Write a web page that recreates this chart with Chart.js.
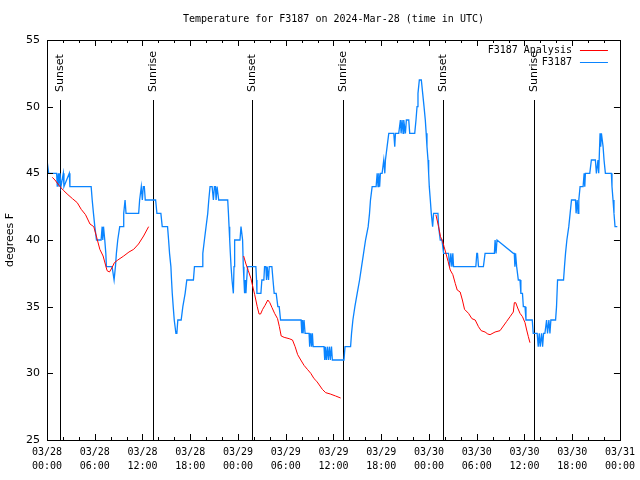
<!DOCTYPE html>
<html>
<head>
<meta charset="utf-8">
<script src="https://cdn.jsdelivr.net/npm/chart.js@4.4.1/dist/chart.umd.min.js"></script>
<style>
  html, body { margin: 0; padding: 0; background: #fff; }
  #wrap { width: 640px; height: 480px; }
</style>
</head>
<body>
<div id="wrap"><canvas id="chart" width="640" height="480"></canvas></div>
<script>
// hours since 2024-03-28 00:00 UTC
const obsHours = [
  0.00, 0.21, 1.21, 1.29, 1.42, 1.50, 1.63, 1.75, 2.05, 2.13, 2.80, 2.88, 5.55, 5.68, 5.84, 6.01, 6.22, 6.80,
  6.93, 7.01, 7.10, 7.26, 7.39, 7.47, 8.18, 8.43, 8.60, 8.72, 8.89, 9.14, 9.56, 9.64, 9.81, 9.93, 10.06, 11.52,
  11.64, 11.85, 11.98, 12.10, 12.23, 12.35, 13.65, 13.81, 14.31, 14.48, 15.15, 15.28, 15.40, 15.57, 15.65, 15.74,
  15.86, 15.99, 16.20, 16.32, 16.44, 16.86, 17.07, 17.36, 17.57, 18.40, 18.53, 19.49, 19.58, 19.78, 19.99, 20.20,
  20.33, 20.49, 20.75, 20.91, 21.04, 21.16, 21.25, 21.37, 21.45, 21.58, 22.71, 22.80, 22.88, 22.96, 23.04, 23.13,
  23.25, 23.42, 23.50, 23.58, 24.25, 24.38, 24.46, 24.58, 24.67, 24.75, 24.83, 24.92, 25.00, 25.09, 25.21, 26.25,
  26.33, 26.38, 26.88, 27.00, 27.25, 27.34, 27.50, 27.59, 27.67, 27.76, 27.84, 27.93, 28.26, 28.40, 28.55, 28.80,
  29.01, 29.18, 29.35, 31.93, 32.02, 32.10, 32.18, 32.30, 32.43, 32.93, 33.01, 33.15, 33.25, 33.35, 33.45, 34.81,
  34.90, 35.00, 35.10, 35.25, 35.35, 35.50, 35.60, 35.75, 35.86, 37.32, 37.45, 38.15, 38.27, 38.44, 38.69, 38.98,
  39.28, 39.53, 39.78, 40.03, 40.36, 40.53, 40.65, 40.86, 41.36, 41.49, 41.60, 41.69, 41.80, 41.90, 42.11, 42.32,
  42.45, 42.53, 42.74, 42.95, 43.58, 43.70, 43.79, 44.20, 44.41, 44.50, 44.62, 44.75, 44.83, 45.04, 45.16, 45.46,
  45.58, 46.21, 46.37, 46.50, 46.62, 46.79, 47.04, 47.21, 47.38, 47.54, 47.65, 47.75, 47.88, 47.96, 48.04, 48.17,
  48.29, 48.46, 48.58, 48.71, 49.13, 49.21, 49.42, 49.63, 49.84, 50.13, 50.46, 50.60, 50.75, 50.88, 51.00, 51.09,
  51.30, 53.89, 54.01, 54.10, 54.22, 54.84, 55.05, 56.22, 56.31, 56.43, 56.55, 58.60, 58.72, 58.80, 58.88, 59.02,
  59.23, 59.44, 59.55, 59.75, 59.86, 60.07, 60.19, 60.98, 61.10, 61.60, 61.73, 61.86, 61.98, 62.15, 62.28, 62.40,
  62.57, 62.78, 62.90, 63.07, 63.20, 63.32, 63.91, 64.03, 64.16, 64.91, 65.03, 65.16, 65.33, 65.57, 65.74, 65.91,
  66.41, 66.49, 66.62, 66.74, 66.83, 66.99, 67.37, 67.50, 67.58, 67.66, 67.79, 68.21, 68.41, 68.91, 69.04, 69.24,
  69.33, 69.50, 69.58, 69.67, 69.88, 70.00, 70.17, 70.92, 71.00, 71.13, 71.25, 71.38, 71.67
];
const obsTemps = [
  46, 45, 45, 44, 45, 44, 45, 44, 45, 44, 45, 44, 44, 43, 42, 41, 40, 40,
  41, 40, 41, 40, 39, 38, 38, 37, 38, 39, 40, 41, 41, 42, 43, 42, 42, 42,
  43, 44, 43, 44, 44, 43, 43, 42, 42, 41, 41, 40, 39, 38, 37, 36,
  35, 34, 33, 33, 34, 34, 35, 36, 37, 37, 38, 38, 39, 40, 41, 42,
  43, 44, 44, 43, 44, 44, 43, 44, 44, 43, 43, 42, 41, 40, 39, 38,
  37, 36, 38, 40, 40, 41, 41, 40, 38, 37, 36, 37, 36, 37, 38, 38,
  37, 36, 36, 37, 37, 38, 38, 37, 38, 38, 37, 38, 38, 37, 36, 36,
  35, 35, 34, 34, 33, 34, 33, 34, 33, 33, 32, 33, 32, 33, 32, 32,
  31, 32, 31, 32, 31, 32, 31, 32, 31, 31, 32, 32, 33, 34, 35, 36,
  37, 38, 39, 40, 41, 42, 43, 44, 44, 45, 44, 45, 44, 45, 45, 46,
  45, 46, 47, 48, 48, 47, 48, 48, 49, 48, 49, 48, 49, 48, 49, 49,
  48, 48, 49, 50, 51, 52, 52, 51, 50, 49, 48, 47, 46, 45, 44, 43,
  42, 41, 42, 42, 42, 41, 40, 40, 39, 39, 39, 38, 39, 38, 39, 38,
  38, 38, 39, 39, 38, 38, 39, 39, 40, 39, 40, 39, 39, 38, 39, 38,
  37, 37, 36, 36, 35, 35, 34, 34, 33, 33, 32, 33, 32, 33, 32, 33,
  33, 34, 33, 34, 33, 34, 34, 35, 37, 37, 38, 39, 40, 41, 42, 43,
  43, 42, 43, 42, 43, 44, 44, 45, 44, 45, 45, 45, 46, 46, 45, 46,
  45, 48, 47, 48, 47, 46, 45, 45, 44, 43, 42, 41, 41
];

// analysis, null = no analysis available (gap in line)
const anaHours = [
  0.67, 1.00, 1.63, 2.10, 2.63, 3.20, 3.80, 4.30, 4.84, 5.40, 5.88, 6.20, 6.64, 7.05, 7.55, 7.85, 8.15, 8.47,
  8.90, 9.64, 10.30, 10.89, 11.50, 12.14, 12.77,
  18.00,
  24.71, 25.00, 25.30, 25.63, 25.90, 26.10, 26.42, 26.65, 26.84, 27.10, 27.40, 27.75, 28.00, 28.26, 28.60, 28.97,
  29.20, 29.43, 29.80, 30.43, 30.85, 31.18, 31.50, 31.89, 32.30, 32.72, 33.15, 33.56, 33.90, 34.31, 34.60, 35.02,
  35.60, 36.27, 36.90,
  42.00,
  48.87, 49.21, 49.45, 49.71, 49.90, 50.13, 50.40, 50.67, 51.00, 51.30, 51.55, 51.92, 52.20, 52.47, 52.97, 53.40,
  53.81, 54.22, 54.56, 55.05, 55.39, 55.68, 56.31, 56.93, 57.35, 57.77, 58.19, 58.60, 58.73, 58.90, 59.15, 59.44,
  59.75, 60.07, 60.28, 60.49, 60.69
];
const anaTemps = [
  44.7, 44.5, 44.0, 43.7, 43.4, 43.1, 42.8, 42.3, 41.9, 41.2, 41.0, 40.3, 39.3, 38.8, 37.7, 37.6, 37.9, 38.3,
  38.5, 38.8, 39.1, 39.3, 39.7, 40.3, 41.0,
  null,
  38.8, 38.2, 37.7, 37.1, 36.4, 35.9, 35.0, 34.45, 34.45, 34.8, 35.1, 35.5, 35.3, 34.95, 34.5, 34.1,
  33.5, 32.8, 32.7, 32.6, 32.5, 32.0, 31.4, 31.0, 30.6, 30.3, 30.0, 29.6, 29.4, 29.05, 28.8, 28.55,
  28.45, 28.3, 28.15,
  null,
  41.9, 41.0, 40.25, 39.9, 39.5, 39.0, 38.4, 37.75, 37.4, 36.75, 36.25, 36.1, 35.5, 34.8, 34.5, 34.1,
  34.0, 33.5, 33.2, 33.1, 32.95, 32.9, 33.1, 33.2, 33.55, 33.9, 34.25, 34.6, 35.3, 35.3, 34.9, 34.5,
  34.25, 33.8, 33.25, 32.75, 32.3
];

const sunHours = [1.67, 13.31, 25.71, 37.23, 49.75, 61.23];
const sunLabels = ['Sunset', 'Sunrise', 'Sunset', 'Sunrise', 'Sunset', 'Sunrise'];
const sunLineTop = 50.5; // degrees F where the marker lines start

const tickHours = [0, 6, 12, 18, 24, 30, 36, 42, 48, 54, 60, 66, 72];
const xTickLabels = [
  ['03/28', '00:00'], ['03/28', '06:00'], ['03/28', '12:00'], ['03/28', '18:00'],
  ['03/29', '00:00'], ['03/29', '06:00'], ['03/29', '12:00'], ['03/29', '18:00'],
  ['03/30', '00:00'], ['03/30', '06:00'], ['03/30', '12:00'], ['03/30', '18:00'],
  ['03/31', '00:00']
];

const titleText = 'Temperature for F3187 on 2024-Mar-28 (time in UTC)';
const yTitle = 'degrees F';
const seriesNames = ['F3187 Analysis', 'F3187'];
const seriesColors = ['#ff0000', '#0a84ff'];

const mono = '10px "DejaVu Sans Mono"';
const sans = '11px "DejaVu Sans"';

// gnuplot style frame, ticks, labels, sun markers, legend
const gnuplotDeco = {
  id: 'gnuplotDeco',
  beforeDatasetsDraw(chart) {
    const c = chart.ctx, a = chart.chartArea;
    const xs = chart.scales.x, ys = chart.scales.y;
    c.save();
    c.strokeStyle = '#000';
    c.lineWidth = 1;
    // sunrise / sunset lines
    sunHours.forEach(function (h, i) {
      const px = Math.round(xs.getPixelForValue(h)) + 0.5;
      c.beginPath();
      c.moveTo(px, Math.round(ys.getPixelForValue(sunLineTop)));
      c.lineTo(px, a.bottom);
      c.stroke();
      c.save();
      c.translate(px, Math.round(ys.getPixelForValue(sunLineTop)) - 8);
      c.rotate(-Math.PI / 2);
      c.fillStyle = '#000';
      c.font = sans;
      c.textAlign = 'left';
      c.textBaseline = 'middle';
      c.fillText(sunLabels[i], 0, 0);
      c.restore();
    });
    c.restore();
  },
  afterDraw(chart) {
    const c = chart.ctx, a = chart.chartArea;
    const xs = chart.scales.x, ys = chart.scales.y;
    c.save();
    c.strokeStyle = '#000';
    c.lineWidth = 1;
    c.strokeRect(Math.round(a.left) + 0.5, Math.round(a.top) + 0.5,
                 Math.round(a.right - a.left), Math.round(a.bottom - a.top));
    c.beginPath();
    // y ticks, mirrored on the right
    for (let v = 25; v <= 55; v += 5) {
      const py = Math.round(ys.getPixelForValue(v)) + 0.5;
      c.moveTo(a.left, py); c.lineTo(a.left + 6, py);
      c.moveTo(a.right, py); c.lineTo(a.right - 6, py);
    }
    // x ticks every 2 h, longer every 6 h, mirrored on top
    for (let h = 0; h <= 72; h += 2) {
      const px = Math.round(xs.getPixelForValue(h)) + 0.5;
      const len = h % 6 === 0 ? 6 : 3;
      c.moveTo(px, a.bottom); c.lineTo(px, a.bottom - len);
      c.moveTo(px, a.top); c.lineTo(px, a.top + len);
    }
    c.stroke();

    c.fillStyle = '#000';
    // title
    c.font = mono;
    c.textAlign = 'center';
    c.textBaseline = 'middle';
    c.fillText(titleText, (a.left + a.right) / 2, 19);
    // y title
    c.save();
    c.translate(10, (a.top + a.bottom) / 2);
    c.rotate(-Math.PI / 2);
    c.font = sans;
    c.fillText(yTitle, 0, 0);
    c.restore();
    // legend
    c.font = mono;
    c.textAlign = 'right';
    seriesNames.forEach(function (name, i) {
      const ly = a.top + 10 + i * 12;
      c.fillStyle = '#000';
      c.fillText(name, a.right - 48, ly);
      c.strokeStyle = seriesColors[i];
      c.beginPath();
      c.moveTo(a.right - 40, ly + 0.5);
      c.lineTo(a.right - 12, ly + 0.5);
      c.stroke();
    });
    c.restore();
  }
};

const ctx = document.getElementById('chart');
new Chart(ctx, {
  type: 'line',
  data: {
    datasets: [
      {
        label: seriesNames[0],
        data: anaHours.map(function (h, i) { return { x: h, y: anaTemps[i] }; }),
        borderColor: seriesColors[0],
        borderWidth: 1,
        pointRadius: 0,
        tension: 0,
        spanGaps: false
      },
      {
        label: seriesNames[1],
        data: obsHours.map(function (h, i) { return { x: h, y: obsTemps[i] }; }),
        borderColor: seriesColors[1],
        borderWidth: 1.3,
        pointRadius: 0,
        tension: 0
      }
    ]
  },
  options: {
    responsive: false,
    animation: false,
    devicePixelRatio: 1,
    layout: { padding: { left: 0, right: 18, top: 40, bottom: 0 } },
    plugins: {
      legend: { display: false },
      tooltip: { enabled: false },
      title: { display: false }
    },
    scales: {
      x: {
        type: 'linear',
        min: 0,
        max: 72,
        afterFit: function (s) { s.height = 40; },
        afterBuildTicks: function (s) { s.ticks = tickHours.map(function (v) { return { value: v }; }); },
        ticks: {
          autoSkip: false,
          maxRotation: 0,
          padding: 5,
          color: '#000',
          font: { family: 'DejaVu Sans Mono', size: 10, lineHeight: 1.4 },
          callback: function (v, i) { return xTickLabels[i]; }
        },
        grid: { display: false, drawTicks: false },
        border: { display: false }
      },
      y: {
        min: 25,
        max: 55,
        afterFit: function (s) { s.width = 47; },
        ticks: {
          stepSize: 5,
          padding: 7,
          color: '#000',
          font: { family: 'DejaVu Sans', size: 11 }
        },
        grid: { display: false, drawTicks: false },
        border: { display: false }
      }
    }
  },
  plugins: [gnuplotDeco]
});
</script>
</body>
</html>
